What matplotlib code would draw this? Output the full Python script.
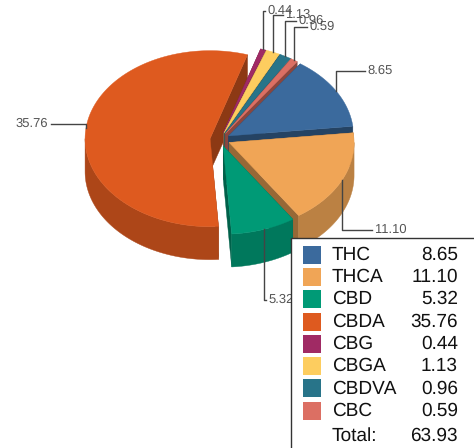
import numpy as np
import matplotlib
matplotlib.use("Agg")
import matplotlib.pyplot as plt
from matplotlib.patches import Polygon, Rectangle

plt.rcParams["font.family"] = ["Liberation Sans", "DejaVu Sans"]
plt.rcParams["text.hinting"] = "none"
plt.rcParams["text.hinting_factor"] = 1

# ============================================================
# DATA
# ============================================================

NOMES = ["THC", "THCA", "CBD", "CBDA", "CBG", "CBGA", "CBDVA", "CBC"]
VALORES = [8.65, 11.10, 5.32, 35.76, 0.44, 1.13, 0.96, 0.59]
TOTAL = 63.93
CORES = ["#3b6a9d", "#f0a556", "#009a76", "#de5a1f",
         "#a02a64", "#fdcd5f", "#287489", "#dc6f63"]

# where each data label ends up (x end of the leader, y of the label)
ROTULOS = [(365, 70.7), (372, 230), (266, 300), (51, 124),
           (265, 11), (283, 15), (296, 21), (307, 27)]

# ============================================================
# LAYOUT
# ============================================================

CX, CY = 220, 139.5
RX, RY = 125, 88
PROF = 33
EXPLODE = 10
INICIO = 35.0


def escurece(cor, f):
    r, g, b = matplotlib.colors.to_rgb(cor)
    return (r * f, g * f, b * f)


def ponto(cx, cy, ang):
    a = np.radians(ang)
    return cx + RX * np.sin(a), cy - RY * np.cos(a)


fig = plt.figure(figsize=(4.74, 4.48), dpi=100)
ax = fig.add_axes([0, 0, 1, 1])
ax.set_xlim(0, 474)
ax.set_ylim(448, 0)
ax.axis("off")

# slice angles, clockwise from the top
fatias = []
ang = INICIO
for nome, v, cor in zip(NOMES, VALORES, CORES):
    fim = ang + v / sum(VALORES) * 360
    meio = np.radians((ang + fim) / 2)
    cx = CX + EXPLODE * np.sin(meio)
    cy = CY - EXPLODE * (RY / RX) * np.cos(meio)
    fatias.append(dict(nome=nome, a0=ang, a1=fim, cx=cx, cy=cy, cor=cor))
    ang = fim


def parede(f, ang):
    p = ponto(f["cx"], f["cy"], ang)
    pts = [(f["cx"], f["cy"]), p, (p[0], p[1] + PROF), (f["cx"], f["cy"] + PROF)]
    cor = escurece(f["cor"], 0.63)
    ax.add_patch(Polygon(pts, closed=True, fc=cor, ec=cor, lw=0.3))


def fatia(f):
    # start wall then end wall
    parede(f, f["a0"])
    if f["nome"] != "CBDA":
        parede(f, f["a1"])

    # outer side, only the part facing the viewer
    a0 = max(f["a0"], 90)
    a1 = min(f["a1"], 270)
    if a1 > a0:
        t = np.linspace(a0, a1, 80)
        x, y = ponto(f["cx"], f["cy"], t)
        pts = list(zip(x, y)) + list(zip(x[::-1], y[::-1] + PROF))
        cor = escurece(f["cor"], 0.78)
        ax.add_patch(Polygon(pts, closed=True, fc=cor, ec=cor, lw=0.3))

    # top
    t = np.linspace(f["a0"], f["a1"], 160)
    x, y = ponto(f["cx"], f["cy"], t)
    pts = [(f["cx"], f["cy"])] + list(zip(x, y))
    ax.add_patch(Polygon(pts, closed=True, fc=f["cor"], ec=f["cor"], lw=0.3))


# the CBDA end wall sits behind the small slices
parede(fatias[3], fatias[3]["a1"])
for i in [4, 5, 6, 7, 0, 1, 2, 3]:
    fatia(fatias[i])

# ============================================================
# DATA LABELS
# ============================================================

for f, v, (xr, yr) in zip(fatias, VALORES, ROTULOS):
    xa, ya = ponto(f["cx"], f["cy"], (f["a0"] + f["a1"]) / 2)
    ax.plot([xa, xa, xr], [ya, yr, yr], color="#444444", lw=1, solid_joinstyle="round")
    if f["nome"] == "CBDA":
        ax.text(xr - 3, yr, f"{v:.2f}", ha="right", va="center", fontsize=9, color="#555555")
    else:
        ax.text(xr + 2, yr, f"{v:.2f}", ha="left", va="center", fontsize=9, color="#555555")

# ============================================================
# LEGEND
# ============================================================

ax.add_patch(Rectangle((291.5, 238.5), 300, 300, fc="white", ec="#333333", lw=1, zorder=5))

for i, (nome, v, cor) in enumerate(zip(NOMES, VALORES, CORES)):
    y = 254.7 + i * 22.3
    ax.add_patch(Rectangle((303, y - 9), 18, 18, fc=cor, ec="none", zorder=6))
    ax.text(332, y, nome, ha="left", va="center", fontsize=13.7, color="#111111", zorder=6)
    ax.text(458, y, f"{v:.2f}", ha="right", va="center", fontsize=13.7, color="#111111", zorder=6)

ax.text(332, 436, "Total:", ha="left", va="center", fontsize=13.7, color="#111111", zorder=6)
ax.text(458, 436, f"{TOTAL:.2f}", ha="right", va="center", fontsize=13.7, color="#111111", zorder=6)

fig.savefig("out.png", dpi=100)
plt.close(fig)
